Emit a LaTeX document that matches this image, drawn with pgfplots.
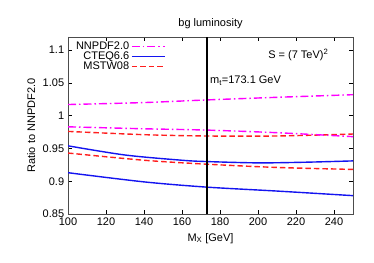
\documentclass[border=0pt]{standalone}
\usepackage{pgfplots}
\pgfplotsset{compat=1.18}
\usepackage{fontspec}
\setmainfont{Liberation Sans}
\definecolor{cmag}{RGB}{255,0,255}
\definecolor{cblue}{RGB}{20,20,240}
\definecolor{cred}{RGB}{255,30,30}
\tikzset{
  nnstyle/.style={color=cmag, line width=1.4pt, dash pattern=on 8pt off 3pt on 1.5pt off 3pt},
  ctstyle/.style={color=cblue, line width=1.4pt, solid},
  msstyle/.style={color=cred, line width=1.4pt, dash pattern=on 5.5pt off 3pt},
}
\begin{document}
\fontsize{11}{13}\selectfont
\begin{tikzpicture}
\begin{axis}[
  scale only axis, width=285pt, height=177pt,
  xmin=100, xmax=250, ymin=0.85, ymax=1.12,
  xtick={100,120,...,240}, ytick={0.85,0.9,0.95,1,1.05,1.1},
  yticklabels={0.85,0.9,0.95,1,1.05,1.1},
  tick align=inside, major tick length=4pt,
  tick style={black, line width=0.5pt},
  axis line style={black!70, line width=0.8pt},
  /pgf/number format/assume math mode=true,
  ticklabel style={font=\fontsize{11}{13}\selectfont},
  label style={font=\fontsize{11}{13}\selectfont},
  title={bg luminosity}, title style={font=\fontsize{11}{13}\selectfont, yshift=-2pt},
  xlabel={M\textsubscript{X} [GeV]},
  ylabel={Ratio to NNPDF2.0},
  legend style={draw=none, fill=none, at={(0.01,0.995)}, anchor=north west,
    font=\fontsize{11}{13}\selectfont, row sep=-3.5pt},
  legend cell align=right,
  legend plot pos=right,
]
\coordinate (sw) at (rel axis cs:0,0);
\coordinate (ne) at (rel axis cs:1,1);
\addlegendimage{legend image code/.code={\draw[nnstyle] (0pt,0pt) -- (33pt,0pt);}}
\addlegendentry{NNPDF2.0}
\addlegendimage{legend image code/.code={\draw[ctstyle] (0pt,0pt) -- (33pt,0pt);}}
\addlegendentry{CTEQ6.6}
\addlegendimage{legend image code/.code={\draw[msstyle] (0pt,0pt) -- (33pt,0pt);}}
\addlegendentry{MSTW08}
\addplot[nnstyle, smooth, forget plot] coordinates {(100,1.017) (140,1.020) (173,1.024) (210,1.028) (250,1.032)};
\addplot[ctstyle, smooth, forget plot] coordinates {(100,0.954) (130,0.940) (160,0.932) (173,0.930) (200,0.928) (225,0.929) (250,0.931)};
\addplot[msstyle, smooth, forget plot] coordinates {(100,0.976) (140,0.971) (173,0.969) (210,0.969) (250,0.972)};
\addplot[nnstyle, smooth, forget plot] coordinates {(100,0.983) (140,0.980) (173,0.978) (210,0.974) (250,0.968)};
\addplot[ctstyle, smooth, forget plot] coordinates {(100,0.913) (140,0.899) (173,0.891) (210,0.885) (250,0.878)};
\addplot[msstyle, smooth, forget plot] coordinates {(100,0.943) (140,0.932) (173,0.926) (210,0.921) (250,0.918)};
\addplot[black, line width=2.2pt, forget plot] coordinates {(173.1,0.85) (173.1,1.12)};
\node[anchor=west, inner sep=0pt] at (axis cs:174.7,1.053) {m\textsubscript{t}=173.1 GeV};
\node[anchor=west, inner sep=0pt] at (axis cs:205.3,1.092) {S = (7 TeV)\textsuperscript{2}};
\end{axis}
\pgfresetboundingbox
\path[use as bounding box] ([shift={(-68pt,-48pt)}]sw) rectangle ([shift={(21pt,37pt)}]ne);
\end{tikzpicture}
\end{document}
